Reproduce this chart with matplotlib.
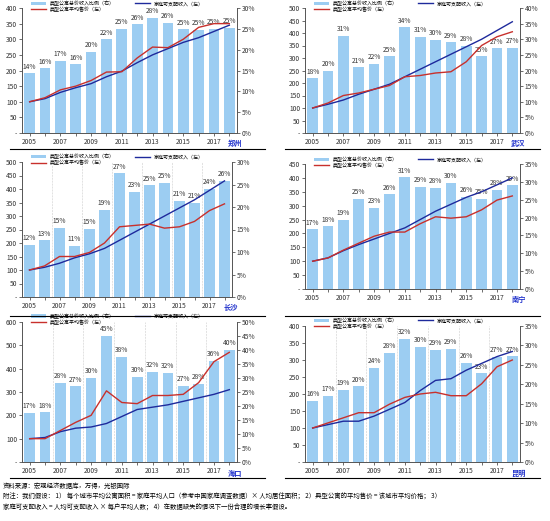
import numpy as np
import matplotlib.pyplot as plt
from matplotlib.ticker import FuncFormatter

plt.rcParams['font.family'] = ['Noto Sans CJK SC', 'DejaVu Sans']

years = list(range(2005, 2019))

cities = ['郑州', '武汉', '长沙', '南宁', '海口', '昆明']

# 典型公寓总价收入比例 (%), 右轴
ratio_zz = [14.3, 15.5, 17.4, 16.5, 19.5, 22.5, 25.0, 26.1, 27.7, 26.4, 24.9, 24.8, 25.0, 25.3]
ratio_wh = [17.5, 20.0, 31.2, 21.0, 22.2, 24.6, 33.8, 30.8, 29.8, 29.0, 28.0, 24.6, 27.2, 27.3]
ratio_cs = [11.6, 12.6, 15.4, 11.4, 15.2, 19.3, 27.5, 23.3, 24.8, 25.4, 21.3, 21.0, 24.0, 25.8]
ratio_nn = [16.7, 17.6, 19.4, 25.3, 22.7, 26.5, 31.3, 28.6, 28.3, 29.8, 25.8, 25.3, 27.8, 29.0]
ratio_hk = [17.4, 17.7, 28.2, 27.0, 30.0, 45.0, 37.6, 30.5, 32.2, 31.7, 27.2, 28.0, 36.0, 40.0]
ratio_km = [15.7, 17.1, 18.6, 19.5, 24.3, 28.1, 31.7, 29.6, 28.8, 29.2, 25.6, 22.8, 27.0, 27.2]
ratio_lbl_cs = [12, 13, 15, 11, 15, 19, 27, 23, 25, 25, 21, 21, 24, 26]

# 家庭可支配收入 (指数, 左轴)
income_zz = [100, 110, 130, 145, 158, 180, 198, 225, 250, 270, 290, 305, 325, 345]
income_wh = [100, 115, 132, 155, 175, 195, 225, 255, 285, 315, 345, 375, 410, 445]
income_cs = [100, 110, 125, 145, 160, 180, 210, 240, 270, 300, 330, 360, 395, 430]
income_nn = [100, 112, 138, 160, 180, 200, 220, 250, 280, 305, 330, 350, 375, 400]
income_hk = [100, 105, 130, 145, 150, 165, 195, 225, 235, 245, 260, 275, 290, 310]
income_km = [100, 110, 120, 120, 135, 155, 175, 210, 240, 245, 270, 290, 310, 325]

# 典型公寓平均售价 (指数, 左轴)
price_zz = [100, 113, 138, 150, 168, 195, 196, 240, 275, 273, 300, 338, 350, 350]
price_wh = [100, 120, 150, 160, 175, 190, 225, 230, 240, 245, 285, 350, 385, 405]
price_cs = [100, 115, 150, 150, 165, 200, 260, 265, 270, 255, 260, 280, 320, 345]
price_nn = [100, 112, 140, 165, 190, 205, 205, 235, 260, 255, 260, 285, 320, 335]
price_hk = [100, 100, 135, 170, 200, 305, 255, 250, 285, 285, 290, 340, 430, 470]
price_km = [100, 115, 130, 145, 145, 170, 190, 200, 205, 195, 195, 230, 280, 300]

ratios = [ratio_zz, ratio_wh, ratio_cs, ratio_nn, ratio_hk, ratio_km]
incomes = [income_zz, income_wh, income_cs, income_nn, income_hk, income_km]
prices = [price_zz, price_wh, price_cs, price_nn, price_hk, price_km]

left_max = [400, 500, 500, 450, 600, 400]
left_step = [50, 50, 50, 50, 100, 50]
right_max = [30, 40, 30, 35, 50, 35]

lg_bar = '典型公寓总价收入比例（右）'
lg_inc = '家庭可支配收入（左）'
lg_price = '典型公寓平均售价（左）'

bar_color = '#9CCDF2'
inc_color = '#1E2A9C'
price_color = '#C8302C'

W, H = 550, 521
fig = plt.figure(figsize=(5.5, 5.21), dpi=100)

# axes boxes in pixels: left, top, right, bottom
boxes = [(22, 8, 237, 133), (305, 8, 520, 133),
         (22, 162, 232, 297), (305, 164, 520, 289),
         (22, 322, 237, 462), (305, 326, 520, 462)]

fs = 4.8

for i in range(6):
    l, t, r, b = boxes[i]
    ax = fig.add_axes([l / W, 1 - b / H, (r - l) / W, (b - t) / H])
    ax2 = ax.twinx()
    ax.set_zorder(ax2.get_zorder() + 1)
    ax.patch.set_visible(False)

    ax2.bar(years, ratios[i], width=0.7, color=bar_color, label=lg_bar)
    for x, v in zip(years, ratios[i]):
        lbl = ratio_lbl_cs[years.index(x)] if i == 2 else int(round(v))
        ax2.text(x, v + right_max[i] * 0.02, f'{lbl}%', ha='center', va='bottom',
                 fontsize=fs, color='#333333')
    ax2.set_ylim(0, right_max[i])
    ax2.set_yticks(np.arange(0, right_max[i] + 0.1, 5))
    ax2.yaxis.set_major_formatter(FuncFormatter(lambda v, p: f'{int(v)}%'))

    ax.plot(years, incomes[i], color=inc_color, lw=1.0, label=lg_inc)
    ax.plot(years, prices[i], color=price_color, lw=1.0, label=lg_price)
    ax.set_ylim(0, left_max[i])
    ax.set_yticks(np.arange(0, left_max[i] + 1, left_step[i]))
    ax.yaxis.set_major_formatter(FuncFormatter(lambda v, p: '-' if v == 0 else f'{int(v)}'))
    ax.set_xlim(2004.5, 2018.5)
    ax.set_xticks(years)
    ax.set_xticklabels([str(y) if y % 2 == 1 and y < 2018 else '' for y in years])
    ax.text(2018.4, -left_max[i] * 0.055, cities[i], ha='center', va='top',
            fontsize=fs + 0.4, color='#2233CC', fontweight='bold')

    if i in (2, 4, 5):
        for xv in [2006.5, 2008.5, 2010.5, 2012.5, 2014.5, 2016.5]:
            ax.axvline(xv, color='#CCCCCC', lw=0.4, ls='--', zorder=0)

    for a in (ax, ax2):
        a.tick_params(labelsize=fs, length=2, width=0.5, pad=1.5, colors='#333333')
        for s in a.spines.values():
            s.set_linewidth(0.6)
            s.set_color('#555555')
        a.spines['top'].set_visible(False)

    h1, l1 = ax2.get_legend_handles_labels()
    h2, l2 = ax.get_legend_handles_labels()
    ax.legend([h1[0], h2[1], h2[0]], [l1[0], l2[1], l2[0]], loc='upper left',
              ncol=2, fontsize=3.6, frameon=False, handlelength=3,
              borderaxespad=0.1, columnspacing=4, labelspacing=0.1,
              bbox_to_anchor=(0.03, 1.08))

# separators
for yy in [149, 316, 478]:
    fig.add_artist(plt.Line2D([10 / W, 265 / W], [1 - yy / H] * 2, color='black', lw=0.8))
    fig.add_artist(plt.Line2D([285 / W, 540 / W], [1 - yy / H] * 2, color='black', lw=0.8))

fig.text(3 / W, 1 - 486 / H, '资料来源：宏观经济数据库，万得，光银国际', fontsize=4.6,
         style='italic', va='center')
fig.text(3 / W, 1 - 497 / H,
         '附注：我们假设： 1） 每个城市平均公寓面积 = 家庭平均人口（参考中国家庭调查数据）× 人均居住面积； 2）典型公寓的平均售价 = 该城市平均价格； 3）',
         fontsize=4.6, style='italic', va='center')
fig.text(3 / W, 1 - 508 / H,
         '家庭可支配收入 = 人均可支配收入 × 每户平均人数； 4）在数据缺失的情况下一份合理的增长率假设。',
         fontsize=4.6, style='italic', va='center')

fig.savefig('out.png', dpi=100)
